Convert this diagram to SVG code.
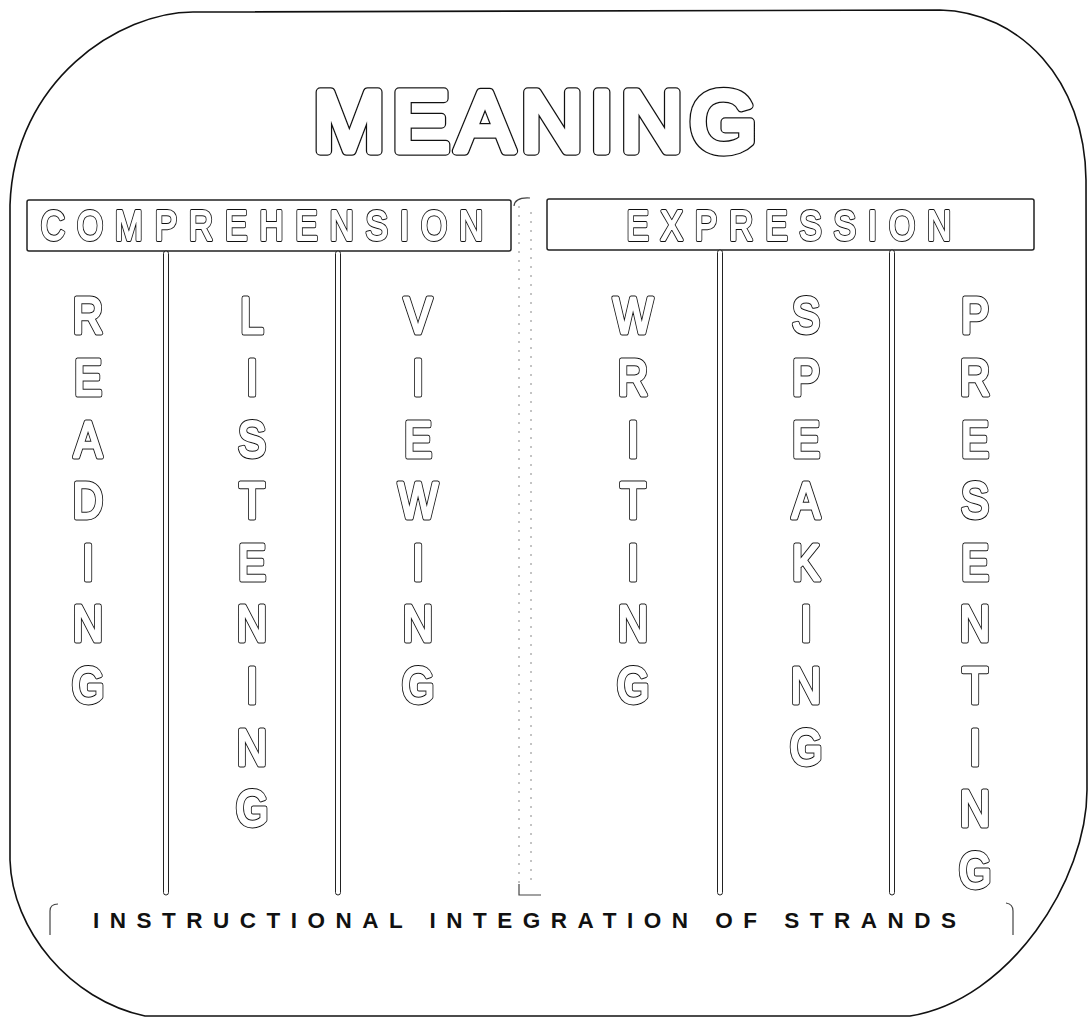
<svg xmlns="http://www.w3.org/2000/svg" xmlns:xlink="http://www.w3.org/1999/xlink" width="1089" height="1018" viewBox="0 0 1089 1018">
<style>
  .frame{fill:#fff;stroke:#111;stroke-width:1.6}
  .hbox{fill:#fff;stroke:#222;stroke-width:1.5}
  .lbl{filter:url(#gray)}
  .o{fill:#111;stroke:#111;stroke-linejoin:round;stroke-linecap:round}
  .i{fill:#fff;stroke:#fff;stroke-linejoin:round;stroke-linecap:round}
  .col{font-family:"Liberation Sans",Arial,sans-serif;font-size:50px;text-anchor:middle}
  .col.o{stroke-width:5}
  .col.i{stroke-width:3}
  .hd{font-family:"Liberation Sans",Arial,sans-serif;font-size:42px}
  .hd.o{stroke-width:4}
  .hd.i{stroke-width:2}
  .big{font-family:"Liberation Sans",Arial,sans-serif;font-size:86px;text-anchor:middle;letter-spacing:7px}
  .big.o{stroke-width:9.5}
  .big.i{stroke-width:7}
  .bar{font-family:"Liberation Sans",Arial,sans-serif;font-weight:bold;font-size:22.5px;fill:#111;letter-spacing:10.5px}
  .div{fill:#fff;stroke:#222;stroke-width:1}
  .faint{fill:none;stroke:#888;stroke-width:1;stroke-dasharray:2 7}
  .brk{fill:none;stroke:#444;stroke-width:1.2}
</style>
<defs>
  <filter id="gray" x="-5%" y="-5%" width="110%" height="110%">
    <feOffset dx="0" dy="0"/>
  </filter>
  <text id="t-meaning" x="538.5" y="151">MEANING</text>
  <text id="t-comp" transform="scale(0.8,1)" x="51" y="240" textLength="553" lengthAdjust="spacing">COMPREHENSION</text>
  <text id="t-expr" transform="scale(0.8,1)" x="783" y="240" textLength="406" lengthAdjust="spacing">EXPRESSION</text>
  <text id="t-reading" transform="translate(88,0) scale(0.84,1)"><tspan x="0" y="333.5">R</tspan><tspan x="0" y="395.1">E</tspan><tspan x="0" y="456.7">A</tspan><tspan x="0" y="518.3">D</tspan><tspan x="0" y="579.9">I</tspan><tspan x="0" y="641.5">N</tspan><tspan x="0" y="703.1">G</tspan></text>
  <text id="t-listening" transform="translate(252,0) scale(0.84,1)"><tspan x="0" y="333.5">L</tspan><tspan x="0" y="395.1">I</tspan><tspan x="0" y="456.7">S</tspan><tspan x="0" y="518.3">T</tspan><tspan x="0" y="579.9">E</tspan><tspan x="0" y="641.5">N</tspan><tspan x="0" y="703.1">I</tspan><tspan x="0" y="764.7">N</tspan><tspan x="0" y="826.3">G</tspan></text>
  <text id="t-viewing" transform="translate(418,0) scale(0.84,1)"><tspan x="0" y="333.5">V</tspan><tspan x="0" y="395.1">I</tspan><tspan x="0" y="456.7">E</tspan><tspan x="0" y="518.3">W</tspan><tspan x="0" y="579.9">I</tspan><tspan x="0" y="641.5">N</tspan><tspan x="0" y="703.1">G</tspan></text>
  <text id="t-writing" transform="translate(633,0) scale(0.84,1)"><tspan x="0" y="333.5">W</tspan><tspan x="0" y="395.1">R</tspan><tspan x="0" y="456.7">I</tspan><tspan x="0" y="518.3">T</tspan><tspan x="0" y="579.9">I</tspan><tspan x="0" y="641.5">N</tspan><tspan x="0" y="703.1">G</tspan></text>
  <text id="t-speaking" transform="translate(806,0) scale(0.84,1)"><tspan x="0" y="333.5">S</tspan><tspan x="0" y="395.1">P</tspan><tspan x="0" y="456.7">E</tspan><tspan x="0" y="518.3">A</tspan><tspan x="0" y="579.9">K</tspan><tspan x="0" y="641.5">I</tspan><tspan x="0" y="703.1">N</tspan><tspan x="0" y="764.7">G</tspan></text>
  <text id="t-presenting" transform="translate(975,0) scale(0.84,1)"><tspan x="0" y="333.5">P</tspan><tspan x="0" y="395.1">R</tspan><tspan x="0" y="456.7">E</tspan><tspan x="0" y="518.3">S</tspan><tspan x="0" y="579.9">E</tspan><tspan x="0" y="641.5">N</tspan><tspan x="0" y="703.1">T</tspan><tspan x="0" y="764.7">I</tspan><tspan x="0" y="826.3">N</tspan><tspan x="0" y="887.9">G</tspan></text>
</defs>

<path id="frame" class="frame" d="M193,12 L940,10 C1020,12 1085,80 1086,180 L1087,790 C1087,880 1010,1000 910,1016 L145,1016 C70,1000 12,930 10,860 L10,205 C14,80 120,12 193,12 Z"/>

<g id="meaning" class="lbl">
  <use xlink:href="#t-meaning" class="big o"/>
  <use xlink:href="#t-meaning" class="big i"/>
</g>

<g id="comprehension">
  <rect class="hbox" x="27" y="200" width="484" height="51" rx="2"/>
  <g class="lbl">
    <use xlink:href="#t-comp" class="hd o"/>
    <use xlink:href="#t-comp" class="hd i"/>
  </g>
</g>

<g id="expression">
  <rect class="hbox" x="547" y="199" width="487" height="51" rx="2"/>
  <g class="lbl">
    <use xlink:href="#t-expr" class="hd o"/>
    <use xlink:href="#t-expr" class="hd i"/>
  </g>
</g>

<g id="connectors">
  <rect class="div" x="163.5" y="251" width="5" height="644" rx="2.5"/>
  <rect class="div" x="335.5" y="251" width="5" height="644" rx="2.5"/>
  <rect class="div" x="717.5" y="250" width="5" height="645" rx="2.5"/>
  <rect class="div" x="889.5" y="250" width="5" height="645" rx="2.5"/>
  <path class="faint" d="M519,206 V890"/>
  <path class="faint" d="M531,212 V880"/>
  <path class="brk" d="M514,206 Q515,197 530,198" stroke="#999"/>
  <path class="brk" d="M519,884 V895 H541"/>
</g>

<g id="reading" class="lbl"><use xlink:href="#t-reading" class="col o"/><use xlink:href="#t-reading" class="col i"/></g>
<g id="listening" class="lbl"><use xlink:href="#t-listening" class="col o"/><use xlink:href="#t-listening" class="col i"/></g>
<g id="viewing" class="lbl"><use xlink:href="#t-viewing" class="col o"/><use xlink:href="#t-viewing" class="col i"/></g>
<g id="writing" class="lbl"><use xlink:href="#t-writing" class="col o"/><use xlink:href="#t-writing" class="col i"/></g>
<g id="speaking" class="lbl"><use xlink:href="#t-speaking" class="col o"/><use xlink:href="#t-speaking" class="col i"/></g>
<g id="presenting" class="lbl"><use xlink:href="#t-presenting" class="col o"/><use xlink:href="#t-presenting" class="col i"/></g>

<g id="integration">
  <path class="brk" d="M58,904 Q50,904 50,911 V935"/>
  <path class="brk" d="M1006,903 Q1013,904 1013,911 V935"/>
  <text class="bar" x="93" y="928">INSTRUCTIONAL INTEGRATION OF STRANDS</text>
</g>
</svg>
